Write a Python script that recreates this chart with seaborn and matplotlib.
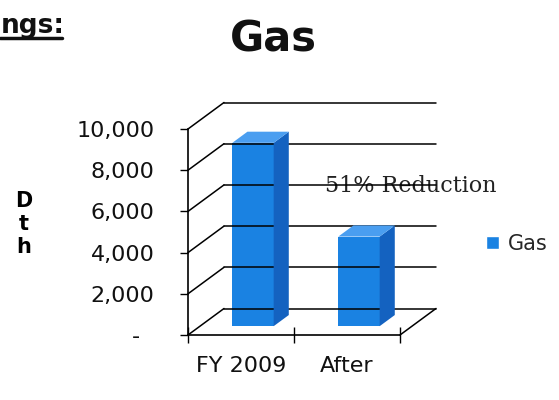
import numpy as np
import pandas as pd
import matplotlib
matplotlib.use("Agg")
import matplotlib.pyplot as plt
import seaborn as sns
from matplotlib.patches import Polygon
from matplotlib.lines import Line2D
from matplotlib import transforms
from matplotlib.ticker import FixedLocator

# ---- data ----
periods = ["FY 2009", "After"]
gas_dth = [8900, 4350]
series = ["Gas", "Gas"]
y_ticks = [0, 2000, 4000, 6000, 8000, 10000]
y_tick_labels = ["-  ", "2,000", "4,000", "6,000", "8,000", "10,000"]
title = "Gas"
header = "ngs:"
note = "51% Reduction"
y_label = "D\nt\nh"

# ---- style ----
FRONT = "#1a82e2"
SIDE = "#1462c0"
TOP = "#4a9ef0"

sns.set_theme(style="white")
plt.rcParams["font.family"] = ["DejaVu Sans"]

fig = plt.figure(figsize=(5.59, 4.0), dpi=100)
ax = fig.add_axes([188 / 559, 65 / 400, 212 / 559, 206 / 400])
ax.patch.set_alpha(0)

df = pd.DataFrame({"period": periods, "dth": gas_dth, "series": series})
sns.barplot(data=df, x="period", y="dth", hue="series", palette=[FRONT],
            width=0.39, saturation=1, ax=ax, legend=True, zorder=3)

ax.set_xlim(-0.5, len(periods) - 0.5)
ax.set_ylim(y_ticks[0], y_ticks[-1])
ax.set_yticks(y_ticks, y_tick_labels)
ax.set_xlabel("")
ax.set_ylabel(y_label, rotation=0, fontsize=15, fontweight="bold",
              linespacing=1.18, ha="center", va="center", color="black")
ax.yaxis.set_label_coords(-0.774, 0.539)

for s in ["top", "right"]:
    ax.spines[s].set_visible(False)
for s in ["left", "bottom"]:
    ax.spines[s].set_color("black")
    ax.spines[s].set_linewidth(1.2)

ax.tick_params(axis="y", which="major", direction="out", length=6, width=1,
               color="black", pad=18, labelsize=16, labelcolor="#111111", left=True)
ax.tick_params(axis="x", which="major", length=0, pad=15, labelsize=16,
               labelcolor="#111111")
bounds = [i - 0.5 for i in range(len(periods) + 1)]
ax.xaxis.set_minor_locator(FixedLocator(bounds))
ax.tick_params(axis="x", which="minor", direction="inout", length=12, width=1,
               color="black", bottom=True)

# ---- pseudo 3D walls ----
D = np.array([0.36, 0.265])          # full depth (inches)
bar_front = D / 3.0
bar_depth = D * 0.42
x_lo, x_hi = bounds[0], bounds[-1]


def to_in(x, y):
    return ax.transData.transform((x, y)) / fig.dpi


wall_kw = dict(color="black", lw=1.1, transform=fig.dpi_scale_trans,
               clip_on=False, zorder=1)
for v in y_ticks:
    p0 = to_in(x_lo, v)
    p1 = to_in(x_hi, v)
    fig.add_artist(Line2D([p0[0], p0[0] + D[0]], [p0[1], p0[1] + D[1]], **wall_kw))
    fig.add_artist(Line2D([p0[0] + D[0], p1[0] + D[0]],
                          [p0[1] + D[1], p1[1] + D[1]], **wall_kw))
pr = to_in(x_hi, y_ticks[0])
fig.add_artist(Line2D([pr[0], pr[0] + D[0]], [pr[1], pr[1] + D[1]], **wall_kw))

# ---- bars: shift and add sides/tops ----
shift = transforms.ScaledTranslation(bar_front[0], bar_front[1], fig.dpi_scale_trans)
for patch in list(ax.patches):
    x0, w, h = patch.get_x(), patch.get_width(), patch.get_height()
    patch.set_transform(ax.transData + shift)
    patch.set_clip_on(False)
    patch.set_edgecolor("none")
    fr_b = to_in(x0 + w, 0) + bar_front
    fr_t = to_in(x0 + w, h) + bar_front
    fl_t = to_in(x0, h) + bar_front
    side = Polygon([fr_b, fr_t, fr_t + bar_depth, fr_b + bar_depth], closed=True,
                   facecolor=SIDE, edgecolor="none", transform=fig.dpi_scale_trans,
                   zorder=3)
    top = Polygon([fl_t, fr_t, fr_t + bar_depth, fl_t + bar_depth], closed=True,
                  facecolor=TOP, edgecolor="none", transform=fig.dpi_scale_trans,
                  zorder=3)
    fig.add_artist(side)
    fig.add_artist(top)

# ---- annotation ----
ax.text(0.646, 0.694, note, transform=ax.transAxes, ha="left", va="baseline",
        fontsize=16, family=["DejaVu Serif"], color="#222222", zorder=0)

# ---- legend ----
sns.move_legend(ax, loc="center left", bbox_to_anchor=(486 / 559, 1 - 244 / 400),
                bbox_transform=fig.transFigure, frameon=False, title=None,
                fontsize=15, handlelength=0.62, handleheight=0.62,
                handletextpad=0.45, borderpad=0, borderaxespad=0)

# ---- titles ----
fig.text(273 / 559, 1 - 52 / 400, title, ha="center", va="baseline",
         fontsize=30, fontweight="bold", color="#111111")
fig.text(1 / 559, 1 - 33 / 400, header, ha="left", va="baseline",
         fontsize=19, fontweight="bold", color="#111111")
fig.add_artist(Line2D([0, 62 / 559], [1 - 38 / 400, 1 - 38 / 400],
                      transform=fig.transFigure, color="#111111", lw=2.5))

fig.savefig("out.png", dpi=100)
